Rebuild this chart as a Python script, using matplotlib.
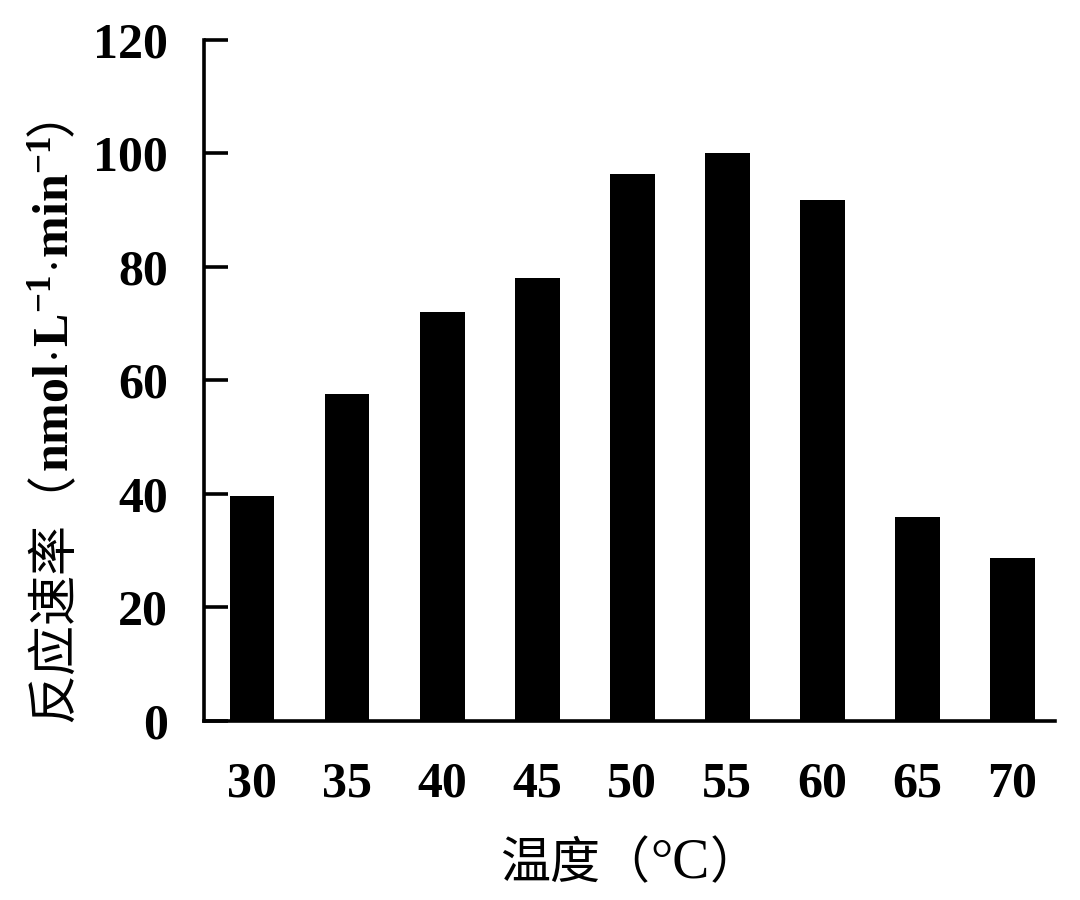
import matplotlib
matplotlib.use("Agg")
from matplotlib import pyplot as plt

temps = ["30", "35", "40", "45", "50", "55", "60", "65", "70"]
rates = [39.6, 57.5, 72.0, 78.0, 96.3, 100.0, 91.8, 35.9, 28.7]

ylabel_parts = ["反应速率（", r"$\mathbf{nmol\!\cdot\! L^{-1}\!\cdot\! min^{-1}}$", "）"]
xlabel_parts = ["温度（", "°C", "）"]

plt.rcParams["font.family"] = ["Liberation Serif", "Noto Sans CJK SC", "DejaVu Serif"]
plt.rcParams["mathtext.fontset"] = "custom"
plt.rcParams["mathtext.rm"] = "Liberation Serif"
plt.rcParams["mathtext.bf"] = "Liberation Serif:bold"

fig = plt.figure(figsize=(10.8, 9), dpi=100)
ax = fig.add_axes([0.189, 0.199, 0.788, 0.757])

x = list(range(len(temps)))
ax.bar(x, rates, width=0.47, color="black")

ax.set_xlim(-0.505, 8.45)
ax.set_ylim(0, 120)
ax.set_yticks([0, 20, 40, 60, 80, 100, 120])
ax.set_xticks(x)
ax.set_xticklabels(temps, fontweight="bold")
for lab in ax.get_yticklabels():
    lab.set_fontweight("bold")

ax.spines["top"].set_visible(False)
ax.spines["right"].set_visible(False)
ax.spines["left"].set_linewidth(2.6)
ax.spines["bottom"].set_linewidth(2.6)

ax.tick_params(axis="y", direction="in", length=17, width=2.6, pad=26, labelsize=36)
ax.tick_params(axis="x", length=0, pad=29, labelsize=36)

renderer = fig.canvas.get_renderer()
W, H = fig.bbox.width, fig.bbox.height

# y label pieces, stacked upward from the bottom
ypos = H - 722
for part, w, fs in zip(ylabel_parts, ["normal", "bold", "normal"], [36, 36, 36]):
    t = fig.text(68 / W, ypos / H, part, rotation=90, rotation_mode="anchor",
                 ha="left", va="baseline", fontsize=fs, fontweight=w)
    ypos += t.get_window_extent(renderer).height

# x label pieces, left to right
xpos = 500
for part, fs in zip(xlabel_parts, [36, 40, 36]):
    t = fig.text(xpos / W, 1 - 878 / H, part, ha="left", va="baseline", fontsize=fs)
    xpos += t.get_window_extent(renderer).width

fig.savefig("out.png", dpi=100)
